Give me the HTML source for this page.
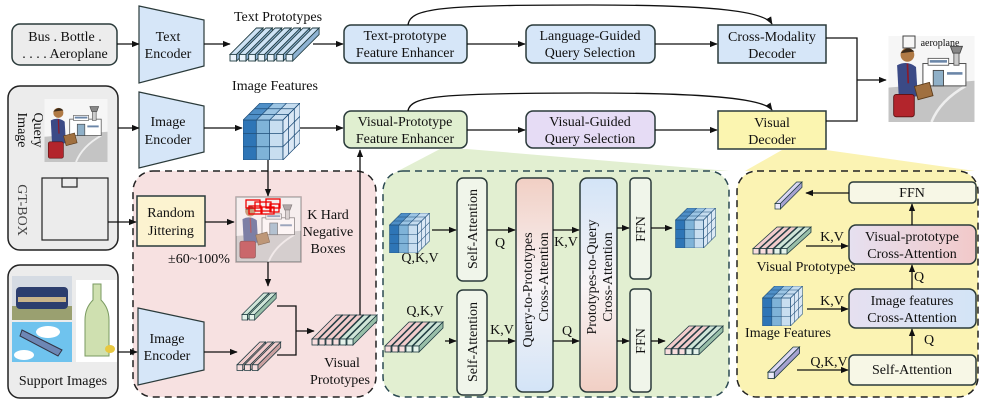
<!DOCTYPE html>
<html><head><meta charset="utf-8"><style>
html,body{margin:0;padding:0;background:#fff;font-family:"Liberation Serif","Times New Roman",Times,"DejaVu Serif",serif;}
svg text{font-family:"Liberation Serif","Times New Roman",Times,"DejaVu Serif",serif !important;}
</style></head><body>
<svg width="986" height="408" viewBox="0 0 986 408" xmlns="http://www.w3.org/2000/svg">
<defs>
<marker id="ar" viewBox="0 0 10 10" refX="9" refY="5" markerWidth="6" markerHeight="6" orient="auto"><path d="M0,1 L10,5 L0,9 z" fill="#111"/></marker>
<linearGradient id="gPB" x1="0" y1="0" x2="0" y2="1"><stop offset="0" stop-color="#f1cfc4"/><stop offset="0.5" stop-color="#f8f4f6"/><stop offset="1" stop-color="#d3e4f7"/></linearGradient>
<linearGradient id="gBP" x1="0" y1="0" x2="0" y2="1"><stop offset="0" stop-color="#d3e4f7"/><stop offset="0.5" stop-color="#f8f4f6"/><stop offset="1" stop-color="#f1cfc4"/></linearGradient>
<linearGradient id="gLP" x1="0" y1="0" x2="1" y2="0"><stop offset="0" stop-color="#e6e0f0"/><stop offset="1" stop-color="#f2c9c9"/></linearGradient>
<linearGradient id="gLB" x1="0" y1="0" x2="1" y2="0"><stop offset="0" stop-color="#e6e0f0"/><stop offset="1" stop-color="#d3e4f7"/></linearGradient>
<symbol id="cube" viewBox="0 0 60 60">
<polygon points="0,18 18,0 60,0 42,18" fill="#c5dcef"/>
<polygon points="0,18 18,0 32,0 14,18" fill="#4f8fc7"/>
<polygon points="14,18 32,0 46,0 28,18" fill="#9cc5e4"/>
<rect x="0" y="18" width="14" height="42" fill="#2e75b6"/>
<rect x="14" y="18" width="14" height="42" fill="#7fb3d8"/>
<rect x="28" y="18" width="14" height="42" fill="#c8def0"/>
<polygon points="42,18 60,0 60,42 42,60" fill="#dbe8f5"/>
<g stroke="#1f4e79" stroke-width="0.8" fill="none">
<rect x="0" y="18" width="42" height="42"/>
<line x1="14" y1="18" x2="14" y2="60"/><line x1="28" y1="18" x2="28" y2="60"/>
<line x1="0" y1="32" x2="42" y2="32"/><line x1="0" y1="46" x2="42" y2="46"/>
<polygon points="0,18 18,0 60,0 42,18"/>
<line x1="14" y1="18" x2="32" y2="0"/><line x1="28" y1="18" x2="46" y2="0"/>
<line x1="6" y1="12" x2="48" y2="12"/><line x1="12" y1="6" x2="54" y2="6"/>
<polygon points="42,18 60,0 60,42 42,60"/>
<line x1="48" y1="12" x2="48" y2="54"/><line x1="54" y1="6" x2="54" y2="48"/>
<line x1="42" y1="32" x2="60" y2="14"/><line x1="42" y1="46" x2="60" y2="28"/>
</g></symbol>
<g id="bB" stroke="#1e3a40" stroke-width="0.8"><polygon points="0,24 24,0 30,0 6,24" fill="#cfe3f5"/><polygon points="6,24 30,0 30,6 6,30" fill="#8fb3d3"/><rect x="0" y="24" width="6" height="6" fill="#eaf3fb"/></g>
<g id="bP" stroke="#1e3a40" stroke-width="0.8"><polygon points="0,24 24,0 30,0 6,24" fill="#f2cccc"/><polygon points="6,24 30,0 30,6 6,30" fill="#c9a0a0"/><rect x="0" y="24" width="6" height="6" fill="#f8dede"/></g>
<g id="bG" stroke="#1e3a40" stroke-width="0.8"><polygon points="0,24 24,0 30,0 6,24" fill="#cfe5d8"/><polygon points="6,24 30,0 30,6 6,30" fill="#99bfa9"/><rect x="0" y="24" width="6" height="6" fill="#e4f2ea"/></g>
<g id="bL" stroke="#1e3a40" stroke-width="0.8"><polygon points="0,24 24,0 30,0 6,24" fill="#d9d6f2"/><polygon points="6,24 30,0 30,6 6,30" fill="#a6a2d0"/><rect x="0" y="24" width="6" height="6" fill="#ecebfa"/></g>
<symbol id="scene" viewBox="0 0 100 100">
<rect width="100" height="100" fill="#f6f6f6"/>
<polygon points="0,60 100,52 100,100 0,100" fill="#c4c4c4"/>
<path d="M50,100 Q60,75 90,58" stroke="#eee" stroke-width="3" fill="none"/>
<rect x="40" y="32" width="50" height="26" fill="#fff" stroke="#555" stroke-width="1.2"/>
<rect x="46" y="26" width="24" height="8" fill="#fff" stroke="#555"/>
<rect x="48" y="28" width="20" height="3" fill="#6b86a8"/>
<rect x="52" y="40" width="12" height="18" fill="#8fb0c8" stroke="#444"/>
<rect x="68" y="42" width="18" height="3" fill="#6b86a8"/>
<polygon points="72,12 86,12 83,20 75,20" fill="#888" stroke="#444"/>
<rect x="76" y="20" width="6" height="14" fill="#ccc" stroke="#555"/>
<circle cx="22" cy="22" r="8" fill="#b07a45"/>
<path d="M14,20 Q22,10 30,18" fill="#3a2a1a"/>
<path d="M10,34 Q22,28 32,36 L34,70 L12,72 Z" fill="#3b4a86"/>
<line x1="22" y1="32" x2="23" y2="55" stroke="#8a1c2c" stroke-width="2"/>
<rect x="32" y="56" width="18" height="16" fill="#a07040" stroke="#5a3a1a" transform="rotate(-15 41 64)"/>
<rect x="6" y="68" width="24" height="26" rx="3" fill="#b3252c" stroke="#5a1010"/>
</symbol>
</defs>

<polygon points="398,171 440,149 467,149 729,171" fill="#e2efd1"/>
<polygon points="745,171 782,150 826,150 975,171" fill="#fbf3b3"/>
<rect x="133" y="171" width="243" height="226" rx="20" fill="#f7e1e1" stroke="#222" stroke-width="1.5" stroke-dasharray="7,5"/>
<rect x="383" y="171" width="346" height="226" rx="20" fill="#e2efd1" stroke="#2b4a52" stroke-width="1.5" stroke-dasharray="7,5"/>
<rect x="737" y="171" width="241" height="226" rx="20" fill="#fbf3b3" stroke="#222" stroke-width="1.5" stroke-dasharray="7,5"/>

<g font-size="14" fill="#111" text-anchor="middle" font-family="'Liberation Serif','Times New Roman',serif">
<rect x="12" y="24" width="105" height="41" rx="8" fill="#ececec" stroke="#2a3a3a" stroke-width="1.5"/>
<text x="65" y="41">Bus . Bottle .</text><text x="65" y="58">. . . . Aeroplane</text>
<polygon points="139,6 204,20 204,66 139,83" fill="#d6e6f8" stroke="#2a3a3a" stroke-width="1.2"/>
<text x="168" y="41">Text</text><text x="168" y="58">Encoder</text>
<text x="278" y="21">Text Prototypes</text>
<g transform="translate(230,28) scale(1.1)"><use href="#bB" x="0"/><use href="#bB" x="8.5"/><use href="#bB" x="17"/><use href="#bB" x="25.5"/><use href="#bB" x="34"/><use href="#bB" x="42.5"/><use href="#bB" x="51"/></g>
<rect x="344" y="25" width="123" height="38" rx="7" fill="#d6e6f8" stroke="#2a3a3a" stroke-width="1.5"/>
<text x="405" y="40">Text-prototype</text><text x="405" y="57">Feature Enhancer</text>
<rect x="526" y="25" width="129" height="38" rx="7" fill="#d6e6f8" stroke="#2a3a3a" stroke-width="1.5"/>
<text x="590" y="40">Language-Guided</text><text x="590" y="57">Query Selection</text>
<rect x="718" y="25" width="108" height="38" fill="#d6e6f8" stroke="#2a3a3a" stroke-width="1.5"/>
<text x="772" y="41">Cross-Modality</text><text x="772" y="58">Decoder</text>

<rect x="8" y="86" width="110" height="164" rx="12" fill="#ececec" stroke="#222" stroke-width="1.5"/>
<use href="#scene" x="44" y="99" width="64" height="63"/>
<text transform="translate(30,130) rotate(90)" x="0" y="-4">Query</text>
<text transform="translate(30,130) rotate(90)" x="0" y="12">Image</text>
<rect x="42" y="178" width="66" height="62" fill="none" stroke="#222" stroke-width="1.2"/>
<rect x="62" y="178" width="15" height="9" fill="none" stroke="#222" stroke-width="1.2"/>
<text transform="translate(22,210) rotate(90)" x="0" y="4" fill="#444">GT-BOX</text>
<polygon points="139,92 204,106 204,152 139,168" fill="#d6e6f8" stroke="#2a3a3a" stroke-width="1.2"/>
<text x="168" y="126">Image</text><text x="168" y="144">Encoder</text>
<text x="275" y="90">Image Features</text>
<use href="#cube" x="243" y="103" width="57" height="57"/>
<rect x="344" y="111" width="123" height="37" rx="7" fill="#e0efd0" stroke="#2a3a3a" stroke-width="1.5"/>
<text x="405" y="126">Visual-Prototype</text><text x="405" y="143">Feature Enhancer</text>
<rect x="526" y="111" width="129" height="37" rx="7" fill="#e6dcf5" stroke="#2a3a3a" stroke-width="1.5"/>
<text x="590" y="126">Visual-Guided</text><text x="590" y="143">Query Selection</text>
<rect x="718" y="111" width="108" height="38" fill="#fbf5b0" stroke="#2a3a3a" stroke-width="1.5"/>
<text x="772" y="127">Visual</text><text x="772" y="144">Decoder</text>
<use href="#scene" x="888" y="36" width="87" height="86"/>
<rect x="903" y="36" width="12" height="12" fill="none" stroke="#444"/>
<text x="940" y="46" font-size="10">aeroplane</text>

<rect x="137" y="196" width="68" height="50" fill="#fcf3d0" stroke="#2a3a3a" stroke-width="1.5"/>
<text x="171" y="217">Random</text><text x="171" y="235">Jittering</text>
<use href="#scene" x="236" y="197" width="65" height="65"/>
<rect x="236" y="197" width="65" height="65" fill="#f7e1e1" opacity="0.35" stroke="#333" stroke-width="1.5"/>
<g fill="none" stroke="#e00" stroke-width="1.3"><rect x="246" y="200" width="14" height="8"/><rect x="255" y="202" width="16" height="9"/><rect x="266" y="199" width="14" height="9"/><rect x="249" y="206" width="12" height="8"/><rect x="262" y="207" width="12" height="7"/><rect x="270" y="204" width="9" height="8"/></g>
<text x="328" y="219">K Hard</text><text x="328" y="236">Negative</text><text x="328" y="253">Boxes</text>
<text x="199" y="263">±60~100%</text>
<g transform="translate(242,293) scale(0.9)"><use href="#bG" x="0"/><use href="#bG" x="8"/></g>
<rect x="8" y="265" width="110" height="133" rx="12" fill="#ececec" stroke="#222" stroke-width="1.5"/>
<rect x="12" y="276" width="60" height="44" fill="#d5dbe3"/><rect x="12" y="306" width="60" height="14" fill="#9aa070"/>
<rect x="16" y="287" width="52" height="22" rx="4" fill="#2c3e6e"/><rect x="18" y="297" width="48" height="5" fill="#c9b48a"/>
<rect x="12" y="322" width="60" height="40" fill="#6fc3ee"/>
<ellipse cx="48" cy="332" rx="12" ry="6" fill="#fff"/><ellipse cx="24" cy="355" rx="10" ry="5" fill="#fff"/>
<polygon points="22,330 62,350 58,356 20,336" fill="#6d87b5" stroke="#334"/>
<rect x="76" y="280" width="41" height="82" fill="#fff"/>
<path d="M93,284 h8 v16 q8,8 8,20 v36 h-24 v-36 q0,-12 8,-20 z" fill="#cfe0b0" stroke="#7a9a60"/>
<ellipse cx="110" cy="349" rx="5" ry="4" fill="#e8c840"/>
<text x="63" y="385">Support Images</text>
<polygon points="138,308 204,322 204,370 138,385" fill="#d6e6f8" stroke="#2a3a3a" stroke-width="1.2"/>
<text x="167" y="343">Image</text><text x="167" y="360">Encoder</text>
<g transform="translate(237,342) scale(0.95)"><use href="#bP" x="0"/><use href="#bP" x="8"/><use href="#bP" x="16"/></g>
<g transform="translate(312,315)"><use href="#bP" x="0"/><use href="#bP" x="7"/><use href="#bP" x="14"/><use href="#bP" x="21"/><use href="#bG" x="28"/><use href="#bG" x="35"/></g>
<text x="342" y="367">Visual</text><text x="340" y="384">Prototypes</text>

<use href="#cube" x="387" y="213" width="45" height="40"/>
<text x="420" y="262">Q,K,V</text>
<g transform="translate(385,322)"><use href="#bP" x="0"/><use href="#bP" x="7"/><use href="#bP" x="14"/><use href="#bG" x="21"/><use href="#bG" x="28"/></g>
<text x="425" y="315">Q,K,V</text>
<rect x="457" y="178" width="30" height="103" rx="6" fill="#f0f5ea" stroke="#2a3a3a" stroke-width="1.5"/>
<text transform="translate(477,229) rotate(-90)">Self-Attention</text>
<rect x="457" y="290" width="30" height="105" rx="6" fill="#f0f5ea" stroke="#2a3a3a" stroke-width="1.5"/>
<text transform="translate(477,342) rotate(-90)">Self-Attention</text>
<text x="500" y="247">Q</text><text x="502" y="334">K,V</text>
<rect x="516" y="178" width="37" height="214" rx="7" fill="url(#gPB)" stroke="#2a3a3a" stroke-width="1.5"/>
<text transform="translate(532,290) rotate(-90)">Query-to-Prototypes</text>
<text transform="translate(548,277) rotate(-90)">Cross-Attention</text>
<text x="566" y="246">K,V</text><text x="567" y="335">Q</text>
<rect x="580" y="178" width="37" height="214" rx="7" fill="url(#gBP)" stroke="#2a3a3a" stroke-width="1.5"/>
<text transform="translate(596,277) rotate(-90)">Prototypes-to-Query</text>
<text transform="translate(612,277) rotate(-90)">Cross-Attention</text>
<rect x="630" y="178" width="21" height="101" rx="4" fill="#f0f5ea" stroke="#2a3a3a" stroke-width="1.5"/>
<text transform="translate(645,229) rotate(-90)">FFN</text>
<rect x="630" y="289" width="21" height="103" rx="4" fill="#f0f5ea" stroke="#2a3a3a" stroke-width="1.5"/>
<text transform="translate(645,341) rotate(-90)">FFN</text>
<use href="#cube" x="673" y="208" width="45" height="40"/>
<g transform="translate(665,326) scale(1,0.95)"><use href="#bP" x="0"/><use href="#bP" x="7"/><use href="#bP" x="14"/><use href="#bG" x="21"/><use href="#bG" x="28"/></g>

<rect x="849" y="182" width="127" height="21" rx="4" fill="#f7f7e6" stroke="#2a3a3a" stroke-width="1.5"/>
<text x="912" y="197">FFN</text>
<g transform="translate(775,182) scale(0.9)"><use href="#bL" x="0"/></g>
<rect x="849" y="225" width="127" height="39" rx="7" fill="url(#gLP)" stroke="#2a3a3a" stroke-width="1.5"/>
<text x="912" y="241">Visual-prototype</text><text x="912" y="258">Cross-Attention</text>
<g transform="translate(753,227) scale(1,0.9)"><use href="#bP" x="0"/><use href="#bP" x="7"/><use href="#bP" x="14"/><use href="#bG" x="21"/><use href="#bG" x="28"/></g>
<text x="806" y="271">Visual Prototypes</text>
<text x="832" y="241">K,V</text>
<text x="919" y="281">Q</text>
<rect x="849" y="289" width="127" height="39" rx="7" fill="url(#gLB)" stroke="#2a3a3a" stroke-width="1.5"/>
<text x="912" y="305">Image features</text><text x="912" y="322">Cross-Attention</text>
<use href="#cube" x="760" y="286" width="45" height="40"/>
<text x="788" y="337">Image Features</text>
<text x="832" y="305">K,V</text>
<text x="929" y="344">Q</text>
<rect x="849" y="355" width="127" height="30" rx="5" fill="#f7f7e6" stroke="#2a3a3a" stroke-width="1.5"/>
<text x="912" y="374">Self-Attention</text>
<g transform="translate(768,347) scale(1.05)"><use href="#bL" x="0"/></g>
<text x="829" y="366">Q,K,V</text>
</g>

<g stroke="#111" stroke-width="1.3" fill="none" marker-end="url(#ar)">
<line x1="117" y1="44" x2="139" y2="44"/>
<line x1="204" y1="44" x2="230" y2="44"/>
<line x1="313" y1="44" x2="343" y2="44"/>
<line x1="467" y1="44" x2="525" y2="44"/>
<line x1="655" y1="44" x2="717" y2="44"/>
<path d="M408,25 C410,8 440,5 590,5 C720,5 765,12 772,24"/>
<line x1="118" y1="128" x2="139" y2="128"/>
<line x1="204" y1="128" x2="242" y2="128"/>
<line x1="300" y1="128" x2="343" y2="128"/>
<line x1="467" y1="130" x2="525" y2="130"/>
<line x1="655" y1="130" x2="717" y2="130"/>
<path d="M408,111 C410,96 440,93 590,93 C720,93 765,100 772,110"/>
<path d="M857,80 L886,80"/>
<path d="M360,315 L360,150"/>
<line x1="268" y1="160" x2="268" y2="196"/>
<line x1="108" y1="222" x2="136" y2="222"/>
<line x1="205" y1="222" x2="234" y2="222"/>
<line x1="268" y1="262" x2="268" y2="286"/>
<line x1="118" y1="352" x2="137" y2="352"/>
<line x1="204" y1="352" x2="237" y2="352"/>
<path d="M296,331 L314,331"/>
<line x1="432" y1="230" x2="456" y2="230"/>
<line x1="445" y1="341" x2="456" y2="341"/>
<line x1="487" y1="230" x2="515" y2="230"/>
<line x1="487" y1="341" x2="515" y2="341"/>
<line x1="553" y1="230" x2="579" y2="230"/>
<line x1="553" y1="341" x2="579" y2="341"/>
<line x1="617" y1="228" x2="629" y2="228"/>
<line x1="617" y1="341" x2="629" y2="341"/>
<line x1="651" y1="228" x2="672" y2="228"/>
<line x1="651" y1="341" x2="665" y2="341"/>
<line x1="849" y1="193" x2="806" y2="193"/>
<line x1="912" y1="225" x2="912" y2="204"/>
<line x1="806" y1="246" x2="848" y2="246"/>
<line x1="912" y1="289" x2="912" y2="265"/>
<line x1="807" y1="309" x2="848" y2="309"/>
<line x1="912" y1="355" x2="912" y2="329"/>
<line x1="797" y1="370" x2="848" y2="370"/>
</g>
<g stroke="#111" stroke-width="1.3" fill="none">
<path d="M826,38 L857,38 L857,121 L826,121"/>
<path d="M277,306 L296,306 L296,355 L277,355"/>
</g>
</svg>
</body></html>
